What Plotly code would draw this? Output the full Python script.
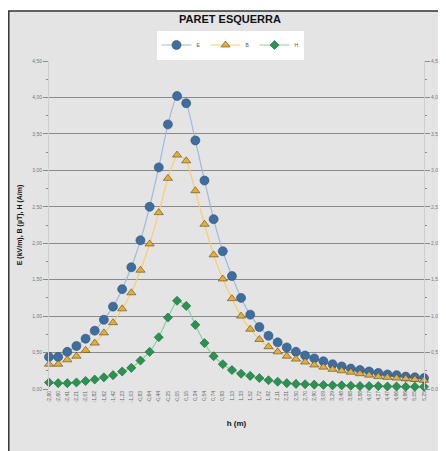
import plotly.graph_objects as go

h_labels = ["-2,80", "-2,60", "-2,41", "-2,21", "-2,01", "-1,82", "-1,62", "-1,42", "-1,23", "-1,03",
            "-0,83", "-0,64", "-0,44", "-0,25", "-0,05", "0,15", "0,34", "0,54", "0,74", "0,93",
            "1,13", "1,33", "1,52", "1,72", "1,92", "2,11", "2,31", "2,50", "2,70", "2,90",
            "3,09", "3,29", "3,48", "3,68", "3,88", "4,07", "4,27", "4,47", "4,66", "4,86",
            "5,05", "5,25"]
E_vals = [0.44, 0.44, 0.51, 0.59, 0.69, 0.80, 0.95, 1.13, 1.37, 1.67, 2.04, 2.50, 3.04, 3.63, 4.02,
          3.92, 3.41, 2.86, 2.33, 1.89, 1.55, 1.25, 1.02, 0.85, 0.73, 0.64, 0.57, 0.51, 0.46, 0.42,
          0.38, 0.34, 0.31, 0.28, 0.26, 0.24, 0.22, 0.20, 0.19, 0.17, 0.16, 0.15]
B_vals = [0.34, 0.34, 0.40, 0.45, 0.53, 0.63, 0.77, 0.91, 1.10, 1.32, 1.63, 1.99, 2.42, 2.89, 3.21,
          3.13, 2.72, 2.26, 1.84, 1.51, 1.24, 1.00, 0.82, 0.68, 0.58, 0.51, 0.45, 0.41, 0.37, 0.33,
          0.30, 0.27, 0.25, 0.23, 0.21, 0.19, 0.17, 0.16, 0.15, 0.14, 0.13, 0.12]
H_vals = [0.09, 0.08, 0.08, 0.09, 0.11, 0.13, 0.16, 0.19, 0.24, 0.29, 0.39, 0.51, 0.71, 0.98, 1.21,
          1.14, 0.88, 0.63, 0.45, 0.34, 0.26, 0.21, 0.18, 0.15, 0.12, 0.10, 0.08, 0.07, 0.065, 0.06,
          0.055, 0.05, 0.05, 0.045, 0.04, 0.04, 0.04, 0.035, 0.035, 0.03, 0.03, 0.03]
y_ticks = [0, 0.5, 1.0, 1.5, 2.0, 2.5, 3.0, 3.5, 4.0, 4.5]
y_ticktext = ["0,00", "0,50", "1,00", "1,50", "2,00", "2,50", "3,00", "3,50", "4,00", "4,50"]

FONT = "Liberation Sans, Arial, sans-serif"
BG = "#e4e4e4"

# the page body adds an 8px offset, so the figure is sized to fill the rest of the window
W, H = 438, 443
L, R, T, B = 41, 22, 53, 62
PW, PH = W - L - R, H - T - B

fig = go.Figure()
series = [
    ("E", E_vals, "#9dbbdb", "#3a6fa6", "circle", 9),
    ("B", B_vals, "#f7cf6a", "#f2ad18", "triangle-up", 8),
    ("H", H_vals, "#86d3a0", "#1f9a48", "diamond", 7),
]
for name, vals, lc, mc, sym, sz in series:
    fig.add_trace(go.Scatter(
        x=h_labels, y=vals, name=name, mode="lines+markers",
        line=dict(color=lc, width=1.2, shape="spline", smoothing=0.5),
        marker=dict(symbol=sym, size=sz, color=mc, line=dict(color="#3f4a58", width=0.6)),
        cliponaxis=False,
    ))
# invisible trace to carry the secondary (right) axis
fig.add_trace(go.Scatter(x=h_labels, y=E_vals, yaxis="y2", mode="lines", opacity=0,
                         showlegend=False, hoverinfo="skip"))

fig.add_shape(type="rect", xref="paper", yref="paper",
              x0=(0.8 - L) / PW, x1=(W + 20 - L) / PW, y0=(H - B - H - 20) / PH, y1=(H - B - 3) / PH,
              fillcolor=BG, line=dict(color="#333333", width=1.5), layer="below")

fig.update_layout(
    width=W, height=H,
    margin=dict(l=L, r=R, t=T, b=B, autoexpand=False),
    paper_bgcolor="white", plot_bgcolor=BG,
    font=dict(family=FONT, color="#555555"),
    title=dict(text="<b>PARET ESQUERRA</b>", x=222 / W, xanchor="center", y=1 - 11 / H, yanchor="middle",
               font=dict(family=FONT, size=11, color="#111111")),
    showlegend=True,
    legend=dict(orientation="h", x=(222 - L) / PW, xanchor="center", yref="container", y=1 - 37 / H,
                yanchor="middle", bgcolor="white", font=dict(size=5, color="#555555"), itemwidth=30,
                entrywidth=4, entrywidthmode="pixels", tracegroupgap=0, itemsizing="trace"),
    xaxis=dict(type="category", range=[0, 41], showgrid=False, tickangle=-90, automargin=False,
               tickfont=dict(size=5, color="#666666"), ticks="", zeroline=False,
               title=dict(text="<b>h (m)</b>", font=dict(size=8, color="#111111"), standoff=18)),
    yaxis=dict(range=[0, 4.5], tickvals=y_ticks, ticktext=y_ticktext, tickfont=dict(size=5, color="#777777"),
               showgrid=True, gridcolor="#8a8a8a", gridwidth=1, ticks="outside", ticklen=5, automargin=False,
               tickcolor="#8a8a8a", showline=True, linecolor="#cfcfcf", zeroline=False,
               minor=dict(dtick=0.25, tick0=0, ticks="outside", ticklen=2, tickcolor="#8a8a8a", showgrid=False),
               title=dict(text="<b>E (kV/m), B (µT), H (A/m)</b>", font=dict(size=7, color="#111111"), standoff=8)),
    yaxis2=dict(range=[0, 4.5], overlaying="y", side="right", tickvals=y_ticks, ticktext=y_ticktext,
                tickfont=dict(size=5, color="#777777"), showgrid=False, ticks="outside", ticklen=5,
                tickcolor="#8a8a8a", showline=True, linecolor="#cfcfcf", zeroline=False, automargin=False,
                minor=dict(dtick=0.25, tick0=0, ticks="outside", ticklen=2, tickcolor="#8a8a8a")),
)

fig.write_html("out.html")
